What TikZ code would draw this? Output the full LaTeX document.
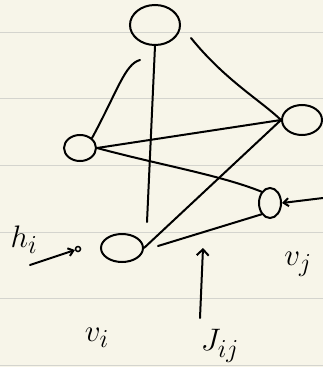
\documentclass[tikz,border=0pt]{standalone}
\usetikzlibrary{shapes.geometric,arrows.meta}
\definecolor{paper}{RGB}{247,245,233}
\definecolor{rule}{RGB}{212,212,206}
\newcommand{\biglbl}[1]{\scalebox{1.25}{$#1$}}
\begin{document}
\begin{tikzpicture}[x=1pt,y=-1pt,
  pen/.style={line width=2pt,line cap=round,black},
  vert/.style={ellipse,draw,line width=2pt,inner sep=0pt},
  lbl/.style={font=\Huge}]
\fill[paper] (0,0) rectangle (323,367);
\useasboundingbox (0,0) rectangle (323,367);
\foreach \y in {32,98,165,232,298,365} \draw[rule,line width=1pt] (0,\y) -- (323,\y);
% vertices
\node[vert,minimum width=50pt,minimum height=40pt] (top) at (155,25) {};
\node[vert,minimum width=32pt,minimum height=26pt] (left) at (80,148) {};
\node[vert,minimum width=40pt,minimum height=30pt] (right) at (302,120) {};
\node[vert,minimum width=22pt,minimum height=30pt] (vj) at (270,203) {};
\node[vert,minimum width=42pt,minimum height=28pt] (vi) at (122,248) {};
% edges
\coordinate (tl) at (140,60);
\coordinate (vend) at (147,222);
\draw[pen] (tl) .. controls (125,64) and (118,90) .. (left.north east);
\draw[pen] (top.south) -- (vend);
\draw[pen] ([xshift=36pt,yshift=8pt]top.south) .. controls (225,80) and (260,100) .. (right.west);
\draw[pen] (left.east) -- (right.west);
\draw[pen] (left.east) .. controls (160,165) and (220,175) .. (vj.north west);
\draw[pen] (vi.east) -- (right.west);
\draw[pen] ([xshift=14pt,yshift=2pt]vi.east) -- (vj.south west);
% h_i
\node[lbl] (hi) at (24,240) {\biglbl{h_i}};
\node[circle,draw,line width=1.5pt,inner sep=0pt,minimum size=5pt] (hdot) at (78,249) {};
\draw[pen,-{Straight Barb[length=5pt,width=8pt]}] (30,265) -- (hdot);
% v_i
\node[lbl] (vil) at (97,338) {\biglbl{v_i}};
% J_ij
\node[lbl] (jl) at (220,346) {\biglbl{J_{ij}}};
\coordinate (jtip) at (203,248);
\draw[pen,-{Straight Barb[length=6pt,width=12pt]}] (200,318) -- (jtip);
% v_j
\node[lbl] (vjl) at (298,264) {\biglbl{v_j}};
\coordinate (vjin) at (323,198);
\draw[pen,-{Straight Barb[length=5pt,width=8pt]}] (vjin) -- (vj.east);
\end{tikzpicture}
\end{document}
